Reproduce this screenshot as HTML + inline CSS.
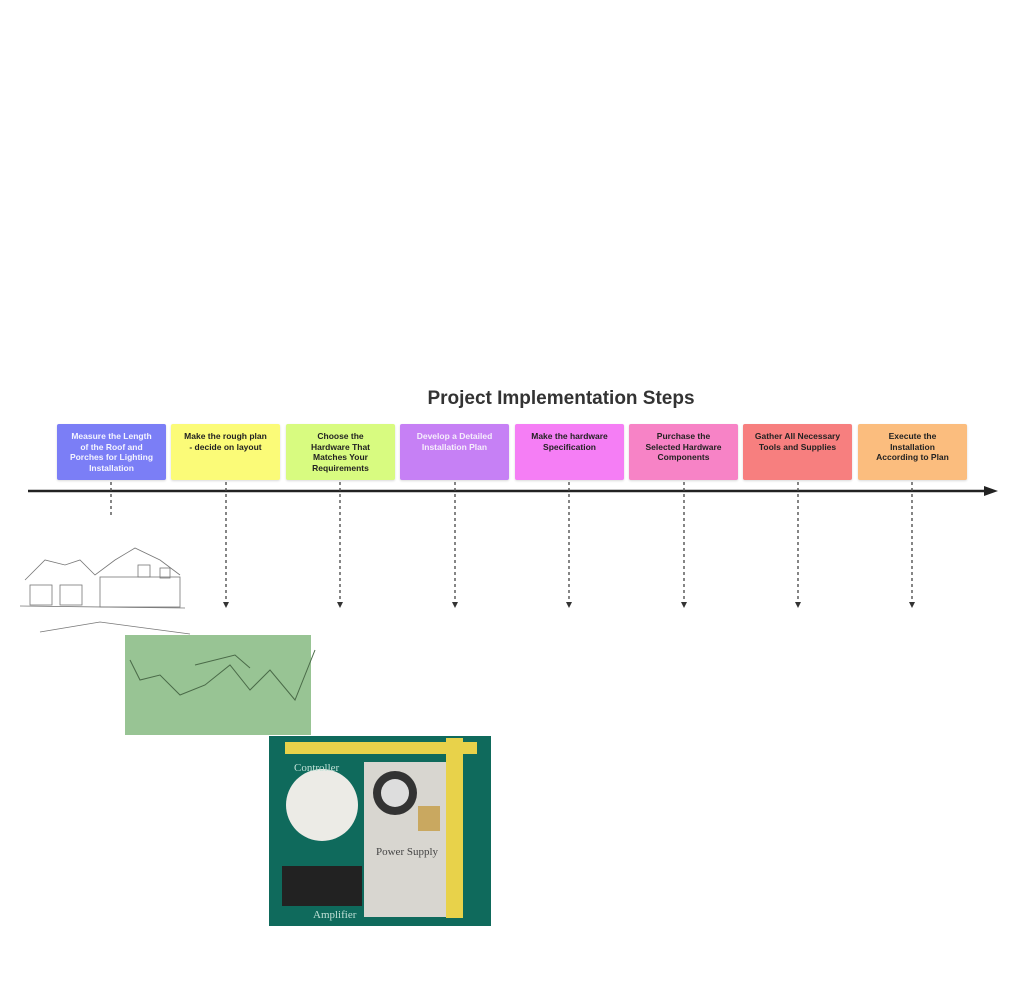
<!DOCTYPE html>
<html><head><meta charset="utf-8"><style>
body{margin:0;width:1024px;height:997px;background:#fff;position:relative;overflow:hidden;font-family:"Liberation Sans","DejaVu Sans",sans-serif}
.b{position:absolute;top:424px;width:109px;height:56px;border-radius:2px;font-size:8.5px;font-weight:bold;text-align:center;line-height:10.5px;padding-top:7px;box-sizing:border-box;color:#222;box-shadow:0 1px 2px rgba(0,0,0,.15)}
.t{position:absolute;left:400px;width:322px;top:388px;text-align:center;font-size:19px;font-weight:bold;color:#333}
</style></head><body>
<div class="t">Project Implementation Steps</div>
<div class="b" style="left:57px;background:#7b7ef6;color:#f4f4ff">Measure the Length<br>of the Roof and<br>Porches for Lighting<br>Installation</div>
<div class="b" style="left:171px;background:#fbfb78">Make the rough plan<br>- decide on layout</div>
<div class="b" style="left:286px;background:#d8fb80">Choose the<br>Hardware That<br>Matches Your<br>Requirements</div>
<div class="b" style="left:400px;background:#c680f5;color:#f6eefc">Develop a Detailed<br>Installation Plan</div>
<div class="b" style="left:515px;background:#f57ef5">Make the hardware<br>Specification</div>
<div class="b" style="left:629px;background:#f783c6">Purchase the<br>Selected Hardware<br>Components</div>
<div class="b" style="left:743px;background:#f77f7f">Gather All Necessary<br>Tools and Supplies</div>
<div class="b" style="left:858px;background:#fbbd7e">Execute the<br>Installation<br>According to Plan</div>
<svg width="1024" height="997" style="position:absolute;left:0;top:0">
<line x1="28" y1="491" x2="985" y2="491" stroke="#222" stroke-width="2.5"/>
<polygon points="984,486 998,491 984,496" fill="#222"/>
<g stroke="#444" stroke-width="1.3" stroke-dasharray="3,3">
<line x1="111" y1="482" x2="111" y2="518"/>
<line x1="226" y1="482" x2="226" y2="603"/>
<line x1="340" y1="482" x2="340" y2="603"/>
<line x1="455" y1="482" x2="455" y2="603"/>
<line x1="569" y1="482" x2="569" y2="603"/>
<line x1="684" y1="482" x2="684" y2="603"/>
<line x1="798" y1="482" x2="798" y2="603"/>
<line x1="912" y1="482" x2="912" y2="603"/>
</g>
<g fill="#333">
<polygon points="223,602 229,602 226,608"/><polygon points="337,602 343,602 340,608"/><polygon points="452,602 458,602 455,608"/><polygon points="566,602 572,602 569,608"/><polygon points="681,602 687,602 684,608"/><polygon points="795,602 801,602 798,608"/><polygon points="909,602 915,602 912,608"/>
</g>
<!-- house sketch -->
<g stroke="#777" stroke-width="0.8" fill="none">
<polyline points="25,580 45,560 65,565 80,560 95,575 115,560 135,548 160,560 180,575"/>
<rect x="30" y="585" width="22" height="20"/><rect x="60" y="585" width="22" height="20"/>
<rect x="100" y="577" width="80" height="30"/>
<rect x="138" y="565" width="12" height="12"/><rect x="160" y="568" width="10" height="10"/>
<line x1="20" y1="606" x2="185" y2="608"/>
<polyline points="40,632 100,622 190,634"/>
</g>
<rect x="125" y="635" width="186" height="100" fill="#98c494"/>
<polyline points="130,660 140,680 160,675 180,695 205,685 230,665 250,690 270,670 295,700 315,650" fill="none" stroke="#4a6a48" stroke-width="1"/>
<polyline points="195,665 235,655 250,668" fill="none" stroke="#4a6a48" stroke-width="1"/>
<!-- hardware photo -->
<rect x="269" y="736" width="222" height="190" fill="#0f6a5c"/>
<rect x="285" y="742" width="192" height="12" fill="#e8d24a"/>
<rect x="446" y="738" width="17" height="180" fill="#e8d24a"/>
<rect x="364" y="762" width="82" height="155" fill="#d8d6d0"/>
<circle cx="395" cy="793" r="22" fill="#333"/><circle cx="395" cy="793" r="14" fill="#ddd"/>
<rect x="418" y="806" width="22" height="25" fill="#c9a860"/>
<circle cx="322" cy="805" r="36" fill="#ecebe6"/>
<rect x="282" y="866" width="80" height="40" fill="#222"/>
<text x="294" y="771" font-family="Liberation Serif" font-size="11" fill="#bfe0d6">Controller</text>
<text x="376" y="855" font-family="Liberation Serif" font-size="11" fill="#444">Power Supply</text>
<text x="313" y="918" font-family="Liberation Serif" font-size="11" fill="#bfe0d6">Amplifier</text>
</svg>
</body></html>
